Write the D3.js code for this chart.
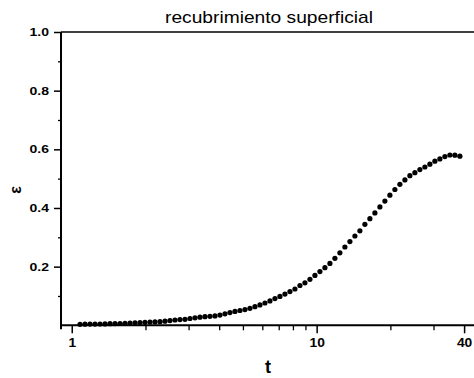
<!DOCTYPE html>
<html><head><meta charset="utf-8">
<script src="https://cdn.jsdelivr.net/npm/d3@7"></script>
<style>body{margin:0;background:#fff}svg{display:block}text{font-family:"Liberation Sans",Arial,sans-serif;fill:#000}</style>
</head><body>
<script>
const tValues = [1.081,1.133,1.1875,1.2446,1.3045,1.3673,1.4331,1.502,1.5743,1.65,1.7294,1.8126,1.8998,1.9912,2.087,2.1874,2.2926,2.4029,2.5185,2.6397,2.7667,2.8998,3.0393,3.1855,3.3388,3.4994,3.6678,3.8442,4.0292,4.223,4.4262,4.6391,4.8623,5.0962,5.3414,5.5984,5.8677,6.15,6.4459,6.756,7.081,7.4217,7.7788,8.153,8.5453,8.9564,9.3873,9.8389,10.312,10.808,11.328,11.873,12.444,13.043,13.67,14.328,15.017,15.74,16.497,17.291,18.123,18.995,19.909,20.867,21.871,22.923,24.026,25.182,26.393,27.663,28.994,30.389,31.851,33.384,34.99,36.673,38.438];
const epsValues = [0.0034,0.0038,0.0041,0.0041,0.0044,0.0048,0.0055,0.0058,0.0061,0.0068,0.0078,0.0085,0.0095,0.0102,0.0109,0.0116,0.0123,0.014,0.016,0.018,0.0194,0.0205,0.0232,0.0256,0.0276,0.0293,0.0307,0.032,0.035,0.0392,0.0433,0.0474,0.0505,0.0535,0.058,0.0634,0.0696,0.076,0.0832,0.091,0.0985,0.1064,0.1149,0.1238,0.1357,0.1449,0.1568,0.1701,0.1831,0.1964,0.211,0.2284,0.2472,0.267,0.2854,0.3045,0.3222,0.3444,0.3634,0.3832,0.4037,0.4235,0.4436,0.463,0.4807,0.4957,0.51,0.5203,0.5309,0.5397,0.5493,0.5595,0.5673,0.5752,0.5806,0.58,0.5766];
const xMajorTicks = [1, 10, 40];
const xMinorTicks = [2,3,4,5,6,7,8,9,20,30];
const yMajorTicks = [0.2,0.4,0.6,0.8,1.0];
const yMinorTicks = [0.1,0.3,0.5,0.7,0.9];
const titleText = "recubrimiento superficial";
const xLabel = "t";
const yLabel = "ε";

(function () {
const W = 474, H = 378;
const svg = d3.select("body").append("svg").attr("width", W).attr("height", H);
const x = d3.scaleLog().domain([0.904, 43.9]).range([61, 474]);
const y = d3.scaleLinear().domain([0, 1]).range([325.3, 32]);
const pl = 61, pr = 474, pt = 32, pb = 325.3;

// top frame line
svg.append("line").attr("x1", pl).attr("x2", pr).attr("y1", pt).attr("y2", pt)
  .attr("stroke", "#000").attr("stroke-width", 1.5);

// x axis
const gx = svg.append("g").attr("transform", `translate(0,${pb})`);
gx.call(d3.axisBottom(x).tickValues(xMajorTicks).tickSize(8).tickFormat(d3.format("d")));
gx.select(".domain").remove();
gx.selectAll(".tick line").attr("stroke-width", 1.5);
gx.selectAll(".tick text").attr("y", 0).attr("dy", null)
  .attr("transform", "translate(0,21.5) scale(1.15,1)")
  .style("font-size", "12px").style("font-weight", "bold");
const gxm = svg.append("g").attr("transform", `translate(0,${pb})`);
gxm.call(d3.axisBottom(x).tickValues(xMinorTicks).tickSize(5).tickFormat(""));
gxm.select(".domain").remove();
gxm.selectAll(".tick line").attr("stroke-width", 1.3);

// y axis
const gy = svg.append("g").attr("transform", `translate(${pl},0)`);
gy.call(d3.axisLeft(y).tickValues(yMajorTicks).tickSize(7).tickFormat(d3.format(".1f")));
gy.select(".domain").remove();
gy.selectAll(".tick line").attr("stroke-width", 1.5);
gy.selectAll(".tick text").attr("x", -12 / 1.4).attr("dy", "0.36em")
  .attr("transform", "scale(1.4,1)")
  .style("font-size", "10px").style("font-weight", "bold");
const gym = svg.append("g").attr("transform", `translate(${pl},0)`);
gym.call(d3.axisLeft(y).tickValues(yMinorTicks).tickSize(3).tickFormat(""));
gym.select(".domain").remove();
gym.selectAll(".tick line").attr("stroke-width", 1.3);

// main axis lines
svg.append("line").attr("x1", pl).attr("x2", pl).attr("y1", pt).attr("y2", pb + 4)
  .attr("stroke", "#000").attr("stroke-width", 2);
svg.append("line").attr("x1", pl - 1).attr("x2", pr).attr("y1", pb).attr("y2", pb)
  .attr("stroke", "#000").attr("stroke-width", 2);

// data points
svg.append("g").selectAll("circle").data(tValues.map((t, i) => [t, epsValues[i]]))
  .join("circle")
  .attr("cx", d => x(d[0])).attr("cy", d => y(d[1])).attr("r", 2.6).attr("fill", "#000");

// title and labels
svg.append("text").attr("transform", "translate(269,23) scale(1.2,1)")
  .attr("text-anchor", "middle").style("font-size", "16px").text(titleText);
svg.append("text").attr("transform", "translate(268,373)")
  .attr("text-anchor", "middle").style("font-size", "18px").style("font-weight", "bold").text(xLabel);
svg.append("text").attr("transform", "translate(15,190) rotate(-90)")
  .attr("text-anchor", "middle").attr("dy", "0.35em").style("font-size", "16px").style("font-weight", "bold").text(yLabel);
})();
</script>
</body></html>
